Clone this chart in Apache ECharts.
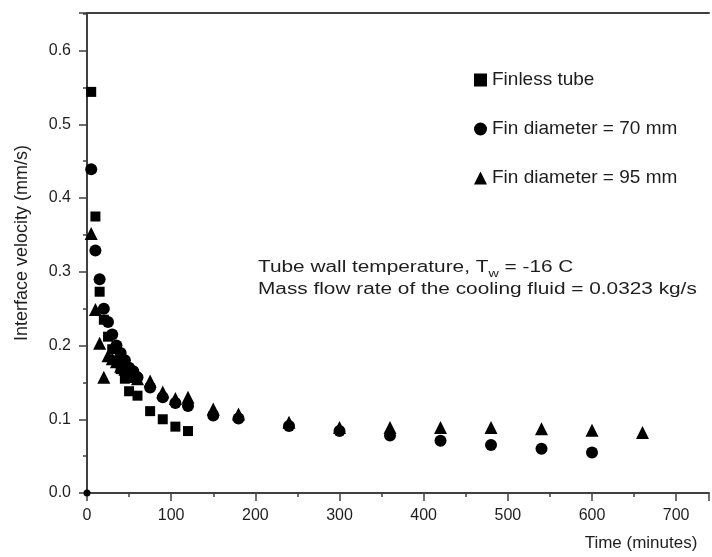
<!DOCTYPE html>
<html>
<head>
<meta charset="utf-8">
<script src="https://cdn.jsdelivr.net/npm/echarts@6/dist/echarts.min.js"></script>
<style>
  html, body { margin: 0; padding: 0; background: #fff; }
  #chart { width: 712px; height: 557px; }
</style>
</head>
<body>
<div id="chart"></div>
<script>
// 读图得到的数据 (minutes, mm/s)
var finlessTime = [5, 10, 15, 20, 25, 30, 35, 40, 45, 50, 60, 75, 90, 105, 120];
var finlessVel = [0.544, 0.375, 0.273, 0.235, 0.212, 0.195, 0.18, 0.168, 0.155, 0.138, 0.132, 0.111, 0.100, 0.090, 0.084];

var fin70Time = [0, 5, 10, 15, 20, 25, 30, 35, 40, 45, 50, 55, 60, 75, 90, 105, 120, 150, 180, 240, 300, 360, 420, 480, 540, 600];
var fin70Vel = [0.0, 0.439, 0.329, 0.290, 0.250, 0.232, 0.215, 0.200, 0.190, 0.180, 0.170, 0.165, 0.157, 0.143, 0.130, 0.122, 0.118, 0.105, 0.101, 0.091, 0.084, 0.078, 0.071, 0.065, 0.060, 0.055];

var fin95Time = [5, 10, 15, 20, 25, 30, 35, 40, 45, 50, 55, 60, 75, 90, 105, 120, 150, 180, 240, 300, 360, 420, 480, 540, 600, 660];
var fin95Vel = [0.352, 0.249, 0.203, 0.157, 0.186, 0.182, 0.178, 0.172, 0.168, 0.162, 0.158, 0.155, 0.152, 0.137, 0.128, 0.130, 0.114, 0.107, 0.096, 0.089, 0.089, 0.089, 0.089, 0.087, 0.085, 0.082];

var seriesNames = ['Finless tube', 'Fin diameter = 70 mm', 'Fin diameter = 95 mm'];

function pairs(xs, ys) {
    var out = [];
    for (var i = 0; i < xs.length; i++) {
        // 原点那个点被坐标轴压住，画小一点
        if (xs[i] === 0 && ys[i] === 0) {
            out.push({ value: [xs[i], ys[i]], symbolSize: 7 });
        } else {
            out.push([xs[i], ys[i]]);
        }
    }
    return out;
}

var axisColor = '#404040';
var textColor = '#1e1e1e';
var fontFam = 'Liberation Sans, Arial, sans-serif';
var markColor = '#000';

var myChart = echarts.init(document.getElementById('chart'));
var option = {
    animation: false,
    backgroundColor: '#fff',
    grid: { left: 87, right: 0, top: 13, bottom: 63 },
    legend: {
        orient: 'vertical',
        left: 469,
        top: 64,
        itemGap: 27,
        itemWidth: 13,
        itemHeight: 13,
        itemStyle: { opacity: 1 },
        textStyle: { fontSize: 19, lineHeight: 22, color: textColor, fontFamily: fontFam },
        data: seriesNames
    },
    xAxis: [{
        type: 'value',
        min: 0,
        max: 739,
        interval: 100,
        name: 'Time (minutes)',
        nameLocation: 'middle',
        nameGap: 42,
        nameTextStyle: { fontSize: 17, color: textColor, fontFamily: fontFam, padding: [0, 0, 0, 486] },
        axisLine: { lineStyle: { color: axisColor, width: 2 } },
        axisTick: { inside: false, length: 8, lineStyle: { color: axisColor, width: 1.5 } },
        minorTick: { show: true, splitNumber: 2, length: 4, lineStyle: { color: axisColor, width: 1.5 } },
        axisLabel: {
            fontSize: 16, color: textColor, fontFamily: fontFam, margin: 15,
            formatter: function (v) { return v % 100 === 0 ? String(v) : ''; }
        },
        splitLine: { show: false }
    }, {
        type: 'value',
        position: 'top',
        min: 0,
        max: 739,
        axisLine: { show: true, onZero: false, lineStyle: { color: axisColor, width: 2 } },
        axisTick: { show: false },
        axisLabel: { show: false },
        splitLine: { show: false }
    }],
    yAxis: {
        type: 'value',
        min: 0,
        max: 0.651,
        interval: 0.1,
        name: 'Interface velocity (mm/s)',
        nameLocation: 'middle',
        nameGap: 56,
        nameTextStyle: { fontSize: 18, color: textColor, fontFamily: fontFam, padding: [0, 0, 0, 20] },
        axisLine: { show: true, lineStyle: { color: axisColor, width: 2 } },
        axisTick: { inside: false, length: 8, lineStyle: { color: axisColor, width: 1.5 } },
        minorTick: { show: true, splitNumber: 2, length: 4, lineStyle: { color: axisColor, width: 1.5 } },
        axisLabel: {
            fontSize: 16, color: textColor, fontFamily: fontFam, margin: 16,
            formatter: function (v) {
                var t = v * 10;
                return Math.abs(t - Math.round(t)) < 1e-6 ? v.toFixed(1) : '';
            }
        },
        splitLine: { show: false }
    },
    graphic: [{
        type: 'text',
        x: 258,
        y: 257,
        scaleX: 1.3,
        style: {
            text: '{a|Tube wall temperature, T}{s|w}{a| = -16 C}\n{a|Mass flow rate of the cooling fluid = 0.0323 kg/s}',
            fill: textColor,
            rich: {
                a: { fontSize: 16, fontFamily: fontFam, lineHeight: 22, fill: textColor },
                s: { fontSize: 11, fontFamily: fontFam, lineHeight: 22, fill: textColor, verticalAlign: 'bottom', padding: [7, 0, 0, 0] }
            }
        }
    }],
    series: [{
        name: seriesNames[0],
        type: 'scatter',
        symbol: 'rect',
        symbolSize: 10,
        itemStyle: { color: markColor, opacity: 1 },
        data: pairs(finlessTime, finlessVel)
    }, {
        name: seriesNames[1],
        type: 'scatter',
        symbol: 'circle',
        symbolSize: 12,
        itemStyle: { color: markColor, opacity: 1 },
        data: pairs(fin70Time, fin70Vel)
    }, {
        name: seriesNames[2],
        type: 'scatter',
        symbol: 'triangle',
        symbolSize: 13,
        itemStyle: { color: markColor, opacity: 1 },
        data: pairs(fin95Time, fin95Vel)
    }]
};
myChart.setOption(option);
</script>
</body>
</html>
